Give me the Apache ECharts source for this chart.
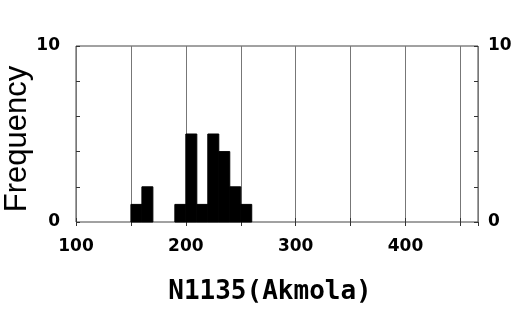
<!DOCTYPE html>
<html>
<head>
<meta charset="utf-8">
<script src="https://cdn.jsdelivr.net/npm/echarts@6/dist/echarts.min.js"></script>
<style>
  html, body { margin: 0; padding: 0; background: #fff; }
  #chart { width: 525px; height: 309px; }
</style>
</head>
<body>
<div id="chart"></div>
<script>
// histogram bins (left edge) and counts
var binStart = [150, 160, 190, 200, 210, 220, 230, 240, 250];
var counts = [1, 2, 1, 5, 1, 5, 4, 2, 1];
var binWidth = 10;
var xLabels = [100, 200, 300, 400];
var yLabels = [0, 10];

var chart = echarts.init(document.getElementById('chart'));

var tickFont = {
    fontFamily: "'DejaVu Sans', sans-serif",
    fontWeight: 'bold',
    fontSize: 17,
    color: '#000'
};

var tick = { show: true, inside: true, length: 4, lineStyle: { color: '#333' } };

chart.setOption({
    animation: false,
    grid: {
        left: 76, right: 47, top: 46, bottom: 87,
        outerBoundsMode: 'none',
        containLabel: false,
        show: true, borderColor: '#444', borderWidth: 1
    },
    xAxis: [{
        type: 'value',
        min: 100,
        max: 466,
        interval: 50,
        position: 'bottom',
        axisLine: { show: false },
        axisTick: tick,
        axisLabel: Object.assign({
            margin: 16,
            showMaxLabel: false,
            formatter: function (v) { return xLabels.indexOf(v) >= 0 ? String(v) : ''; }
        }, tickFont),
        splitLine: { show: true, lineStyle: { color: '#777', width: 1 } },
        name: 'N1135(Akmola)',
        nameLocation: 'middle',
        nameGap: 57,
        nameMoveOverlap: false,
        nameTextStyle: {
            fontFamily: "'DejaVu Sans Mono', 'Liberation Mono', monospace",
            fontWeight: 'bold',
            fontSize: 26,
            color: '#000',
            padding: [0, 14, 0, 0]
        }
    }, {
        type: 'value',
        min: 100,
        max: 466,
        interval: 50,
        position: 'top',
        axisLine: { show: false },
        axisTick: tick,
        axisLabel: { show: false },
        splitLine: { show: false }
    }],
    yAxis: [{
        type: 'value',
        min: 0,
        max: 10,
        interval: 2,
        position: 'left',
        axisLine: { show: false },
        axisTick: tick,
        axisLabel: Object.assign({
            margin: 16,
            formatter: function (v) { return yLabels.indexOf(v) >= 0 ? String(v) : ''; }
        }, tickFont),
        splitLine: { show: false },
        name: 'Frequency',
        nameLocation: 'middle',
        nameGap: 43,
        nameMoveOverlap: false,
        nameTextStyle: {
            fontFamily: "'Liberation Sans', Arial, sans-serif",
            fontSize: 31,
            color: '#000',
            padding: [0, 10, 0, 0]
        }
    }, {
        type: 'value',
        min: 0,
        max: 10,
        interval: 2,
        position: 'right',
        axisLine: { show: false },
        axisTick: tick,
        axisLabel: Object.assign({
            margin: 10,
            formatter: function (v) { return yLabels.indexOf(v) >= 0 ? String(v) : ''; }
        }, tickFont),
        splitLine: { show: false }
    }],
    series: [{
        type: 'custom',
        xAxisIndex: 0,
        yAxisIndex: 0,
        data: binStart.map(function (x, i) { return [x, x + binWidth, counts[i]]; }),
        encode: { x: [0, 1], y: 2 },
        renderItem: function (params, api) {
            var p0 = api.coord([api.value(0), api.value(2)]);
            var p1 = api.coord([api.value(1), 0]);
            return {
                type: 'rect',
                shape: { x: p0[0], y: p0[1], width: p1[0] - p0[0], height: p1[1] - p0[1] },
                style: { fill: '#000', stroke: '#000', lineWidth: 1 }
            };
        }
    }]
});
</script>
</body>
</html>
